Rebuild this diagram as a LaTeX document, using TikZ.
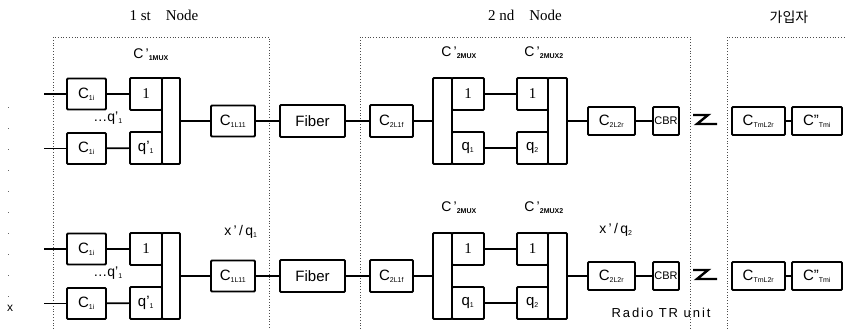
\documentclass[tikz,border=0pt]{standalone}
\usepackage{fontspec}
\setmainfont{Liberation Serif}
\setsansfont{Liberation Sans}
\newfontfamily\krfont{Noto Sans CJK KR}
\newcommand{\lowsub}[1]{\textsubscript{\fontsize{7}{8}\selectfont #1}}
\begin{document}
\begin{tikzpicture}
[x=1pt,y=-1pt,
 boxdecorate/.style={shape=rectangle,draw,line width=1.8pt,rounded corners=1pt,inner sep=0pt,font=\sffamily\fontsize{15}{17}\selectfont},
 linedecorate/.style={-,line width=1.7pt},
 framedecorate/.style={dotted,line width=0.8pt,black!70},
 labeldecorate/.style={font=\sffamily\fontsize{14}{16}\selectfont}]
\useasboundingbox (0,0) rectangle (846,329);
%% dotted frames
\draw[framedecorate] (53,329) -- (53,37) -- (269,37) -- (269,329);
\draw[framedecorate] (360,329) -- (360,37) -- (690,37) -- (690,329);
\draw[framedecorate] (727,329) -- (727,37) -- (846,37);
\draw[line width=0.8pt,black!60,dash pattern=on 1pt off 20pt] (8,107) -- (8,300);
%% titles
\node (nodeone) at (164,15) [font=\rmfamily\fontsize{15}{17}\selectfont] {1 st\quad Node};
\node (nodetwo) at (525,15) [font=\rmfamily\fontsize{15}{17}\selectfont] {2 nd\quad Node};
\node (subscriber) at (789,17) [font=\krfont\fontsize{14}{16}\selectfont] {가입자};
\node (muxone) at (151,55) [labeldecorate] {C\,'\lowsub{\bfseries 1MUX}};
\node (xqone) at (241,232) [labeldecorate] {x\,'\,/\,q\lowsub{1}};
\node (xqtwo) at (616,230) [labeldecorate] {x\,'\,/\,q\lowsub{2}};
\node (radio) at (661,313) [font=\sffamily\fontsize{13}{15}\selectfont\addfontfeature{LetterSpace=15}] {Radio TR unit};
\node (xmark) at (10,308) [labeldecorate,font=\sffamily\fontsize{12}{14}\selectfont] {x};
%% both rows
\foreach \r/\dy in {t/0, b/155} {
  %% nodes or blocks
  \foreach \nodename/\x/\y/\w/\h/\txt in {
    cina/86.5/94/39/31/{C\lowsub{1i}}, cinb/86.5/148.5/39/31/{C\lowsub{1i}},
    ina/146/94/32/32/{\rmfamily 1}, inb/146/148/32/32/{q'\lowsub{1}},
    bara/171/121/18/86/{}, linka/233/121/44/31/{C\lowsub{1L11}},
    fiber/312.5/121/65/32/{Fiber}, linkb/391.5/121/43/32/{C\lowsub{2L1f}},
    barb/442.5/121/19/86/{}, outa/468/94/32/32/{\rmfamily 1},
    outb/468/148/32/32/{q\lowsub{1}}, muxa/532.5/94/31/32/{\rmfamily 1},
    muxb/532.5/148/31/32/{q\lowsub{2}}, barc/557.5/121/19/86/{},
    linkc/611.5/121/47/28/{C\lowsub{2L2r}}, cbr/666/121/26/28/{\fontsize{11}{13}\selectfont CBR},
    term/758.5/121/53/28/{C\lowsub{TmL2r}}, user/817/121/50/28/{C"\lowsub{Tmi}}} {
    \node (\r\nodename) at (\x,\y+\dy) [boxdecorate,minimum width=\w pt,minimum height=\h pt] {\txt};
  }
  \coordinate (\r ia) at (44,94+\dy);
  \coordinate (\r ib) at (44,148.5+\dy);
  %% labels
  \node (\r dots) at (108,118+\dy) [labeldecorate] {\dots q'\lowsub{1}};
  \node (\r muxtwo) at (459,53+\dy) [labeldecorate] {C\,'\lowsub{\bfseries 2MUX}};
  \node (\r muxthree) at (544,53+\dy) [labeldecorate] {C\,'\lowsub{\bfseries 2MUX2}};
  %% radio link
  \draw[line width=2.4pt] (693,115+\dy) -- (708,115+\dy) -- (697,124+\dy) -- (717,124+\dy);
  %% edges or lines
  \path
  \foreach \startnode/\endnode in {ia/cina, ib/cinb, cina/ina, cinb/inb, bara/linka,
      linka/fiber, fiber/linkb, linkb/barb, outa/muxa, outb/muxb, barc/linkc,
      linkc/cbr, term/user} {
    (\r\startnode) edge[linedecorate] (\r\endnode)
  };
}
\end{tikzpicture}
\end{document}
